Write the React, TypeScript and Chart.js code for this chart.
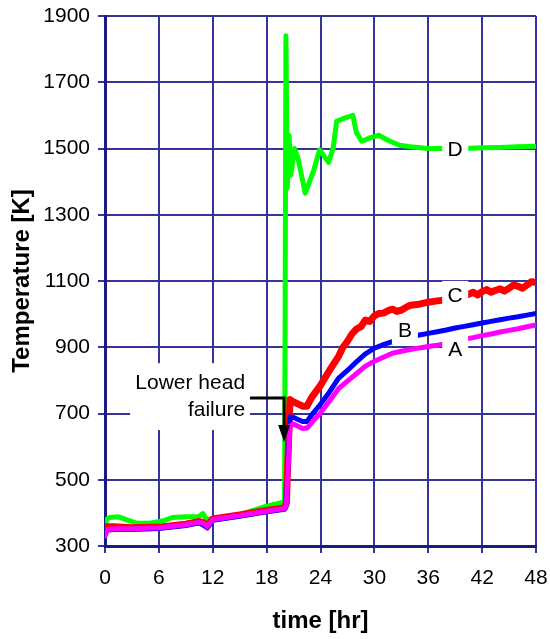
import React, { useEffect, useRef } from "react";
import { Chart, registerables } from "chart.js";

Chart.register(...registerables);

// ---- data ----
const timeABC = [0, 0.3, 1, 3, 6, 9, 10.5, 11, 11.4, 12, 15, 18, 20, 20.2, 20.6, 21, 22, 22.5, 23, 24, 25, 26, 27, 28, 29, 30, 31, 32, 33, 34, 35, 36, 37, 38, 39, 40, 41, 42, 43, 44, 45, 46, 47, 48];
const tempA = [330, 350, 352, 352, 355, 364, 372, 368, 358, 380, 392, 405, 413, 425, 662, 668, 655, 656, 672, 702, 738, 775, 798, 820, 843, 858, 870, 882, 888, 893, 898, 902, 906, 911, 917, 924, 929, 935, 940, 946, 951, 956, 962, 967];
const tempB = [345, 348, 350, 350, 353, 362, 370, 362, 355, 378, 390, 403, 411, 425, 690, 688, 676, 676, 695, 728, 765, 806, 830, 856, 880, 897, 908, 917, 924, 932, 937, 942, 947, 952, 958, 963, 968, 973, 978, 983, 988, 992, 997, 1002];
const timeC = [0, 0.3, 1, 3, 6, 9, 10.5, 11, 11.4, 12, 15, 18, 20, 20.2, 20.6, 21, 22, 22.5, 23, 24, 25, 26, 26.5, 27, 27.5, 28, 28.5, 29, 29.5, 30, 30.5, 31, 31.5, 32, 32.5, 33, 33.5, 34, 35, 36, 37, 38, 40.5, 41, 41.5, 42, 42.5, 43, 43.5, 44, 44.5, 45, 45.5, 46, 46.5, 47, 47.5, 48];
const tempC = [358, 358, 358, 355, 357, 366, 374, 370, 360, 382, 394, 407, 415, 430, 742, 735, 722, 722, 748, 785, 830, 872, 900, 918, 940, 955, 962, 982, 978, 995, 1002, 1003, 1010, 1015, 1008, 1012, 1020, 1027, 1030, 1036, 1040, 1043, 1060, 1066, 1058, 1068, 1074, 1066, 1072, 1076, 1070, 1078, 1088, 1084, 1078, 1088, 1098, 1095];
const timeD = [0, 0.15, 0.5, 1.5, 2.5, 3.5, 5, 6.5, 7.5, 9, 10.5, 10.9, 11.3, 12, 15, 18, 20, 20.15, 20.3, 20.5, 20.7, 21.1, 21.5, 22.3, 23.2, 23.9, 24.9, 25.4, 25.8, 26.5, 27.6, 28, 28.6, 29.5, 30.5, 31.5, 32.8, 34, 36, 38, 40, 42, 44, 46, 48];
const tempD = [335, 380, 386, 388, 378, 369, 369, 376, 386, 388, 389, 398, 380, 382, 395, 420, 433, 1840, 1380, 1540, 1420, 1500, 1470, 1365, 1430, 1496, 1458, 1500, 1582, 1590, 1600, 1548, 1522, 1532, 1540, 1525, 1510, 1505, 1500, 1500, 1500, 1502, 1503, 1505, 1507];

const xTicks = [0, 6, 12, 18, 24, 30, 36, 42, 48];
const yTicks = [300, 500, 700, 900, 1100, 1300, 1500, 1700, 1900];

const curveLabels = [
  { text: "D", t: 39, v: 1499 },
  { text: "C", t: 39, v: 1058 },
  { text: "B", t: 33.4, v: 952 },
  { text: "A", t: 39, v: 895 },
];
const failureText = ["Lower head", "failure"];

const FONT = "'Liberation Sans', Arial, sans-serif";

const toXY = (ts: number[], vs: number[]) => ts.map((t, i) => ({ x: t, y: vs[i] }));

const annotate = {
  id: "annotate",
  afterDatasetsDraw(chart: any) {
    const { ctx } = chart;
    const xs = chart.scales.x;
    const ys = chart.scales.y;
    const px = (t: number) => xs.getPixelForValue(t);
    const py = (v: number) => ys.getPixelForValue(v);
    ctx.save();
    ctx.font = `21px ${FONT}`;
    ctx.textAlign = "center";
    ctx.textBaseline = "middle";
    for (const l of curveLabels) {
      const x = px(l.t);
      const y = py(l.v);
      ctx.fillStyle = "#ffffff";
      ctx.fillRect(x - 13, y - 14, 26, 28);
      ctx.fillStyle = "#000000";
      ctx.fillText(l.text, x, y + 1);
    }
    // failure annotation box
    const bx0 = px(2.8), bx1 = px(16.15);
    const by0 = py(852), by1 = py(650);
    ctx.fillStyle = "#ffffff";
    ctx.fillRect(bx0, by0, bx1 - bx0, by1 - by0);
    ctx.fillStyle = "#000000";
    ctx.textAlign = "right";
    ctx.fillText(failureText[0], px(15.6), py(792));
    ctx.fillText(failureText[1], px(15.6), py(711));
    // arrow
    const ax0 = px(16.15), ax1 = px(19.95);
    const ay0 = py(747), ay1 = py(614);
    ctx.strokeStyle = "#000000";
    ctx.lineWidth = 3;
    ctx.beginPath();
    ctx.moveTo(ax0, ay0);
    ctx.lineTo(ax1, ay0);
    ctx.lineTo(ax1, ay1 - 14);
    ctx.stroke();
    ctx.beginPath();
    ctx.moveTo(ax1 - 6, ay1 - 17);
    ctx.lineTo(ax1 + 6, ay1 - 17);
    ctx.lineTo(ax1, ay1);
    ctx.closePath();
    ctx.fillStyle = "#000000";
    ctx.fill();
    ctx.restore();
  },
  afterDraw(chart: any) {
    const { ctx, chartArea } = chart;
    ctx.save();
    ctx.fillStyle = "#000000";
    ctx.font = `bold 24px ${FONT}`;
    ctx.textAlign = "center";
    ctx.textBaseline = "middle";
    ctx.fillText("time [hr]", (chartArea.left + chartArea.right) / 2, 621);
    ctx.translate(22, (chartArea.top + chartArea.bottom) / 2);
    ctx.rotate(-Math.PI / 2);
    ctx.fillText("Temperature [K]", 0, 0);
    ctx.restore();
  },
};

export default function App() {
  const ref = useRef<HTMLCanvasElement>(null);
  useEffect(() => {
    if (!ref.current) return;
    const common = { pointRadius: 0, tension: 0, fill: false, borderJoinStyle: "round" as const, borderCapStyle: "round" as const };
    const chart = new Chart(ref.current, {
      type: "line",
      data: {
        datasets: [
          { label: "A", data: toXY(timeABC, tempA), borderColor: "#ff00ff", borderWidth: 5, order: 0, ...common },
          { label: "B", data: toXY(timeABC, tempB), borderColor: "#0000ff", borderWidth: 5, order: 1, ...common },
          { label: "C", data: toXY(timeC, tempC), borderColor: "#ff0000", borderWidth: 7, order: 2, ...common },
          { label: "D", data: toXY(timeD, tempD), borderColor: "#00ff00", borderWidth: 5, order: 3, ...common },
        ],
      },
      options: {
        animation: false,
        responsive: false,
        devicePixelRatio: 1,
        layout: { padding: { top: 16, right: 14, left: 0, bottom: 0 } },
        plugins: { legend: { display: false }, tooltip: { enabled: false } },
        scales: {
          x: {
            type: "linear",
            min: 0,
            max: 48,
            afterBuildTicks: (s: any) => { s.ticks = xTicks.map((v) => ({ value: v })); },
            afterFit: (s: any) => { s.height = 93; s.paddingLeft = 0; s.paddingRight = 0; },
            grid: { color: "#333399", lineWidth: 2, tickLength: 7, drawTicks: true },
            border: { color: "#1a1a80", width: 3 },
            ticks: { color: "#000000", font: { family: FONT, size: 21 }, padding: 13, maxRotation: 0, autoSkip: false, callback: (v: any) => String(v) },
          },
          y: {
            type: "linear",
            min: 300,
            max: 1900,
            afterBuildTicks: (s: any) => { s.ticks = yTicks.map((v) => ({ value: v })); },
            afterFit: (s: any) => { s.width = 105; s.paddingTop = 0; s.paddingBottom = 0; },
            grid: { color: "#333399", lineWidth: 2, tickLength: 7, drawTicks: true },
            border: { color: "#1a1a80", width: 3 },
            ticks: { color: "#000000", font: { family: FONT, size: 21 }, padding: 8, autoSkip: false, callback: (v: any) => String(v) },
          },
        },
      },
      plugins: [annotate],
    });
    return () => chart.destroy();
  }, []);
  return (
    <div style={{ position: "absolute", left: 0, top: 0, width: 550, height: 639, background: "#ffffff" }}>
      <canvas ref={ref} width={550} height={639} style={{ display: "block" }} />
    </div>
  );
}
